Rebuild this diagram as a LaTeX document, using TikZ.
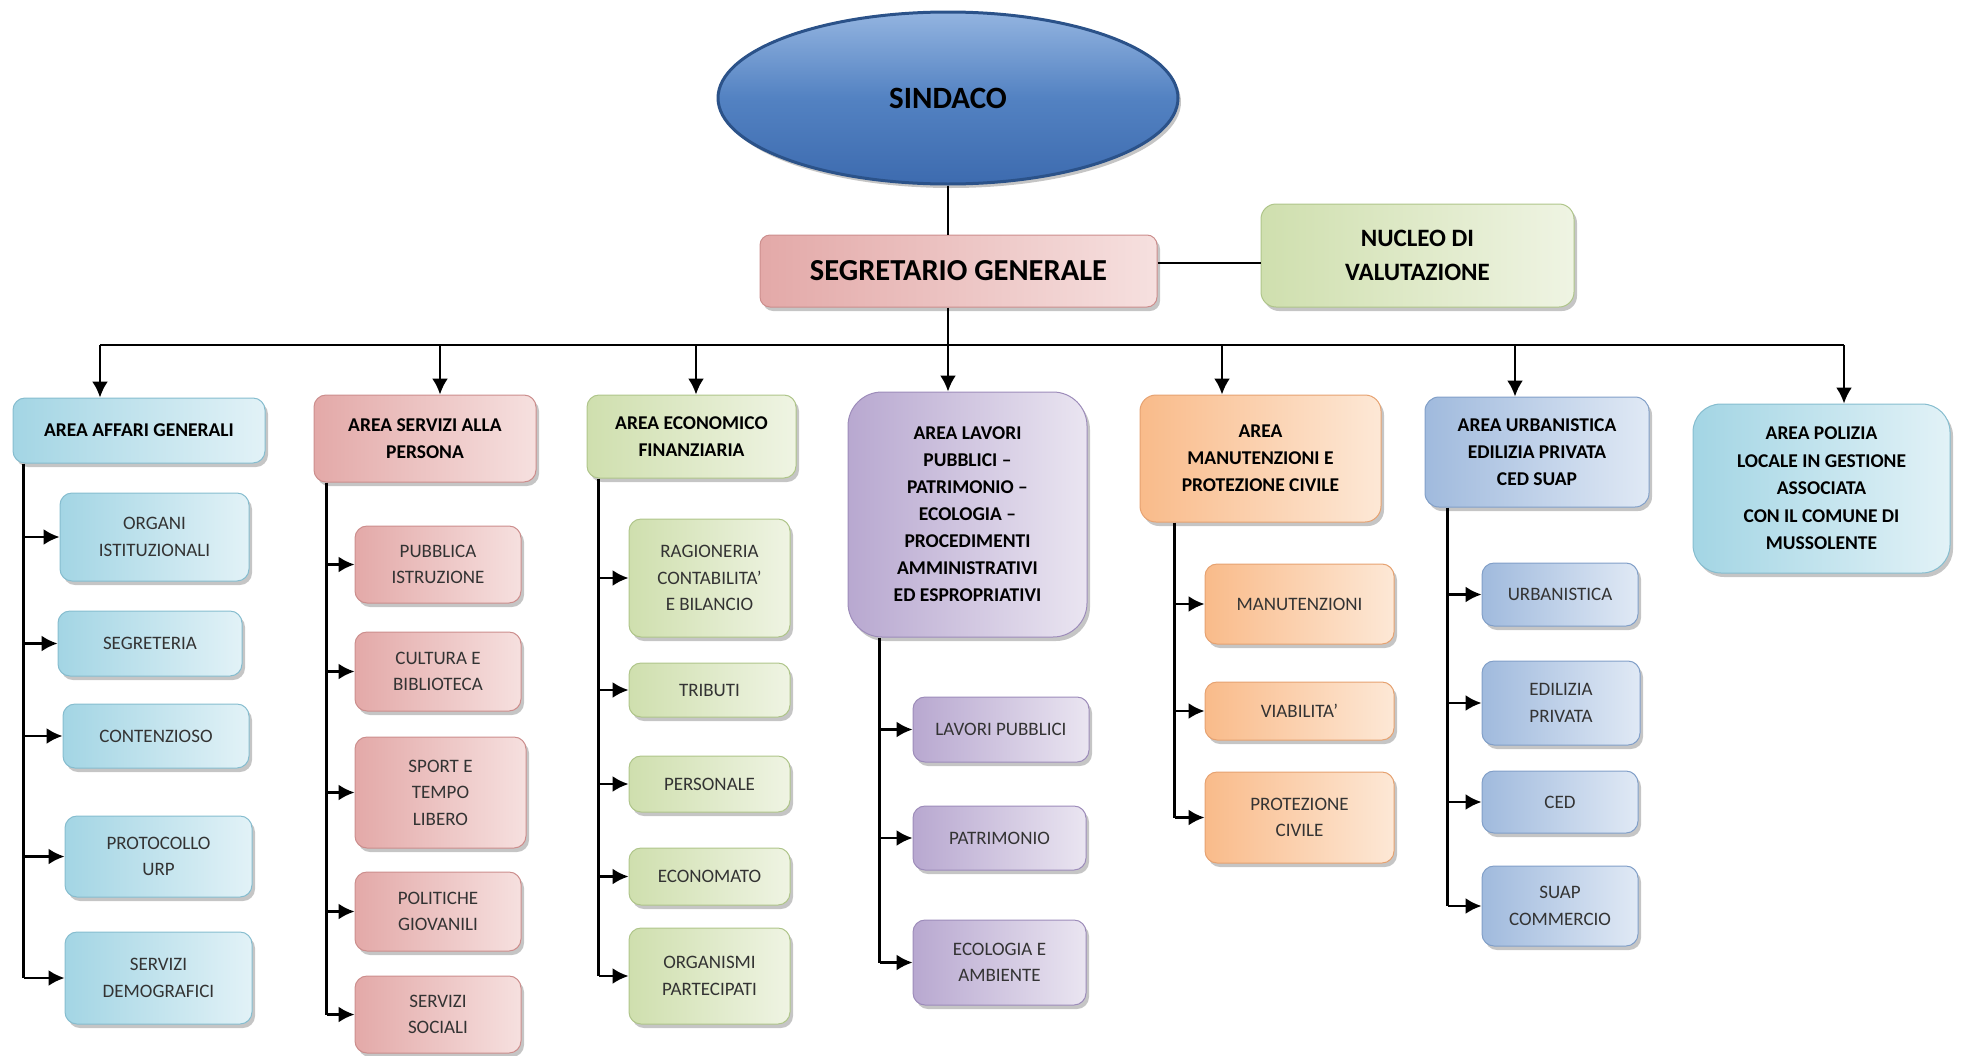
\documentclass[tikz,border=0pt]{standalone}
\usepackage{fontspec}
\setmainfont{Carlito}
\usetikzlibrary{shapes.geometric,shadows,arrows.meta}
\definecolor{acquaS}{HTML}{A3D5E4}\definecolor{acquaC}{HTML}{E2F2F7}\definecolor{acquaB}{HTML}{86BDCF}
\definecolor{rosaS}{HTML}{E3A9A8}\definecolor{rosaC}{HTML}{F6E0DF}\definecolor{rosaB}{HTML}{CC8E8D}
\definecolor{verdeS}{HTML}{CFDFAE}\definecolor{verdeC}{HTML}{EFF4E3}\definecolor{verdeB}{HTML}{AFC58A}
\definecolor{violaS}{HTML}{B8A8D0}\definecolor{violaC}{HTML}{EAE5F1}\definecolor{violaB}{HTML}{9D8CBA}
\definecolor{aranS}{HTML}{F9BB8A}\definecolor{aranC}{HTML}{FDE8D6}\definecolor{aranB}{HTML}{E6A271}
\definecolor{bluS}{HTML}{A0BADD}\definecolor{bluC}{HTML}{E0E9F5}\definecolor{bluB}{HTML}{819FC8}
\definecolor{sindC}{HTML}{93B4E0}\definecolor{sindM}{HTML}{5382C2}\definecolor{sindS}{HTML}{3D6BAF}\definecolor{sindB}{HTML}{2B5289}
\begin{document}
\begin{tikzpicture}[x=1pt,y=-1pt]
    \tikzstyle{linea}=[line width=2.3pt]
    \tikzstyle{freccia}=[line width=2.3pt,-{Latex[length=16pt,width=16pt]}]
    \tikzstyle{casella}=[rounded corners=12pt,inner sep=0pt,align=center,line width=1pt,text=black!80,
        drop shadow={shadow xshift=3pt,shadow yshift=-4pt,fill=black!45,opacity=.5},
        font=\fontsize{19}{26.5}\selectfont]
    \tikzstyle{area}=[casella,text=black,font=\fontsize{19.5}{27}\selectfont\bfseries]
    \tikzstyle{acqua}=[draw=acquaB,left color=acquaS,right color=acquaC]
    \tikzstyle{rosa}=[draw=rosaB,left color=rosaS,right color=rosaC]
    \tikzstyle{verde}=[draw=verdeB,left color=verdeS,right color=verdeC]
    \tikzstyle{viola}=[draw=violaB,left color=violaS,right color=violaC]
    \tikzstyle{arancio}=[draw=aranB,left color=aranS,right color=aranC]
    \tikzstyle{blu}=[draw=bluB,left color=bluS,right color=bluC]
    \useasboundingbox (0,0) rectangle (1962,1055);
    % vertice
    \node[ellipse,draw=sindB,line width=3pt,inner sep=0pt,top color=sindC,bottom color=sindS,middle color=sindM,
          drop shadow={shadow xshift=3pt,shadow yshift=-4pt,fill=black!45,opacity=.5},
          minimum width=460pt,minimum height=172pt,font=\fontsize{31}{36}\selectfont\bfseries] (sindaco) at (948,98) {SINDACO};
    \node[area,rosa,rounded corners=10pt,minimum width=397pt,minimum height=72pt,font=\fontsize{30.5}{36}\selectfont\bfseries] (segretario) at (958.5,271) {SEGRETARIO GENERALE};
    \node[area,verde,rounded corners=15pt,minimum width=313pt,minimum height=103pt,font=\fontsize{25}{34}\selectfont\bfseries] (nucleo) at (1417.5,255.5) {NUCLEO DI\\VALUTAZIONE};
    \coordinate (busS) at (100,345);
    \coordinate (busD) at (1844,345);
    % aree
    \node[area,acqua,minimum width=252pt,minimum height=65pt] (a1) at (139,430.5) {AREA AFFARI GENERALI};
    \node[area,rosa,minimum width=222pt,minimum height=87pt] (a2) at (425,438.5) {AREA SERVIZI ALLA\\PERSONA};
    \node[area,verde,minimum width=209pt,minimum height=83pt] (a3) at (691.5,436.5) {AREA ECONOMICO\\FINANZIARIA};
    \node[area,viola,rounded corners=34pt,minimum width=239pt,minimum height=245pt] (a4) at (967.5,514.5) {AREA LAVORI\\PUBBLICI –\\PATRIMONIO –\\ECOLOGIA –\\PROCEDIMENTI\\AMMINISTRATIVI\\ED ESPROPRIATIVI};
    \node[area,arancio,rounded corners=16pt,minimum width=241pt,minimum height=127pt] (a5) at (1260.5,458.5) {AREA\\MANUTENZIONI E\\PROTEZIONE CIVILE};
    \node[area,blu,rounded corners=14pt,minimum width=224pt,minimum height=110pt] (a6) at (1537,452) {AREA URBANISTICA\\EDILIZIA PRIVATA\\CED SUAP};
    \node[area,acqua,rounded corners=28pt,minimum width=257pt,minimum height=169pt,font=\fontsize{19.5}{27.5}\selectfont\bfseries] (a7) at (1821.5,488.5) {AREA POLIZIA\\LOCALE IN GESTIONE\\ASSOCIATA\\CON IL COMUNE DI\\MUSSOLENTE};
    % uffici
    \node[casella,acqua,minimum width=189pt,minimum height=88pt] (c11) at (154.5,537) {ORGANI\\ISTITUZIONALI};
    \node[casella,acqua,minimum width=184pt,minimum height=65pt] (c12) at (150,643.5) {SEGRETERIA};
    \node[casella,acqua,minimum width=186pt,minimum height=64pt] (c13) at (156,736) {CONTENZIOSO};
    \node[casella,acqua,minimum width=187pt,minimum height=81pt] (c14) at (158.5,856.5) {PROTOCOLLO\\URP};
    \node[casella,acqua,minimum width=187pt,minimum height=92pt] (c15) at (158.5,978) {SERVIZI\\DEMOGRAFICI};
    \node[casella,rosa,minimum width=166pt,minimum height=77pt] (c21) at (438,564.5) {PUBBLICA\\ISTRUZIONE};
    \node[casella,rosa,minimum width=166pt,minimum height=79pt] (c22) at (438,671.5) {CULTURA E\\BIBLIOTECA};
    \node[casella,rosa,minimum width=171pt,minimum height=111pt] (c23) at (440.5,792.5) {SPORT E\\TEMPO\\LIBERO};
    \node[casella,rosa,minimum width=166pt,minimum height=79pt] (c24) at (438,911.5) {POLITICHE\\GIOVANILI};
    \node[casella,rosa,minimum width=166pt,minimum height=77pt] (c25) at (438,1014.5) {SERVIZI\\SOCIALI};
    \node[casella,verde,minimum width=161pt,minimum height=118pt] (c31) at (709.5,578) {RAGIONERIA\\CONTABILITA’\\E BILANCIO};
    \node[casella,verde,minimum width=161pt,minimum height=54pt] (c32) at (709.5,690) {TRIBUTI};
    \node[casella,verde,minimum width=161pt,minimum height=56pt] (c33) at (709.5,784) {PERSONALE};
    \node[casella,verde,minimum width=161pt,minimum height=57pt] (c34) at (709.5,876.5) {ECONOMATO};
    \node[casella,verde,minimum width=161pt,minimum height=96pt] (c35) at (709.5,976) {ORGANISMI\\PARTECIPATI};
    \node[casella,viola,minimum width=176pt,minimum height=65pt] (c41) at (1001,729.5) {LAVORI PUBBLICI};
    \node[casella,viola,minimum width=173pt,minimum height=64pt] (c42) at (999.5,838) {PATRIMONIO};
    \node[casella,viola,minimum width=173pt,minimum height=85pt] (c43) at (999.5,962.5) {ECOLOGIA E\\AMBIENTE};
    \node[casella,arancio,minimum width=189pt,minimum height=80pt] (c51) at (1299.5,604) {MANUTENZIONI};
    \node[casella,arancio,minimum width=189pt,minimum height=58pt] (c52) at (1299.5,711) {VIABILITA’};
    \node[casella,arancio,minimum width=189pt,minimum height=91pt] (c53) at (1299.5,817.5) {PROTEZIONE\\CIVILE};
    \node[casella,blu,minimum width=156pt,minimum height=63pt] (c61) at (1560,594.5) {URBANISTICA};
    \node[casella,blu,minimum width=158pt,minimum height=84pt] (c62) at (1561,703) {EDILIZIA\\PRIVATA};
    \node[casella,blu,minimum width=156pt,minimum height=62pt] (c63) at (1560,802) {CED};
    \node[casella,blu,minimum width=156pt,minimum height=80pt] (c64) at (1560,906) {SUAP\\COMMERCIO};
    % collegamenti in alto
    \draw[linea] (sindaco.south) -- (sindaco.south |- segretario.north);
    \draw[linea] (sindaco.south |- segretario.south) -- (sindaco.south |- busS);
    \draw[linea] ([yshift=8pt]segretario.east) -- ([yshift=8pt]segretario.east -| nucleo.west);
    \draw[linea] (busS) -- (busD);
    \draw[freccia] ([xshift=-39pt]a1.north |- busS) -- ([xshift=-39pt]a1.north);
    \draw[freccia] ([xshift=15pt]a2.north |- busS) -- ([xshift=15pt]a2.north);
    \draw[freccia] ([xshift=4.5pt]a3.north |- busS) -- ([xshift=4.5pt]a3.north);
    \draw[freccia] (sindaco.south |- busS) -- (sindaco.south |- a4.north);
    \draw[freccia] ([xshift=-38.5pt]a5.north |- busS) -- ([xshift=-38.5pt]a5.north);
    \draw[freccia] ([xshift=-22pt]a6.north |- busS) -- ([xshift=-22pt]a6.north);
    \draw[freccia] ([xshift=22.5pt]a7.north |- busS) -- ([xshift=22.5pt]a7.north);
    % collegamenti agli uffici
    \coordinate (s1) at ([xshift=11pt]a1.south west);
    \coordinate (s2) at ([xshift=13pt]a2.south west);
    \coordinate (s3) at ([xshift=12pt]a3.south west);
    \coordinate (s4) at ([xshift=32pt]a4.south west);
    \coordinate (s5) at ([xshift=35pt]a5.south west);
    \coordinate (s6) at ([xshift=23pt]a6.south west);
    \draw[linea] (s1) -- (s1 |- c15.west)
        (s1 |- c11.west) edge[freccia] (c11.west)
        (s1 |- c12.west) edge[freccia] (c12.west)
        (s1 |- c13.west) edge[freccia] (c13.west)
        (s1 |- c14.west) edge[freccia] (c14.west)
        (s1 |- c15.west) edge[freccia] (c15.west);
    \draw[linea] (s2) -- (s2 |- c25.west)
        (s2 |- c21.west) edge[freccia] (c21.west)
        (s2 |- c22.west) edge[freccia] (c22.west)
        (s2 |- c23.west) edge[freccia] (c23.west)
        (s2 |- c24.west) edge[freccia] (c24.west)
        (s2 |- c25.west) edge[freccia] (c25.west);
    \draw[linea] (s3) -- (s3 |- c35.west)
        (s3 |- c31.west) edge[freccia] (c31.west)
        (s3 |- c32.west) edge[freccia] (c32.west)
        (s3 |- c33.west) edge[freccia] (c33.west)
        (s3 |- c34.west) edge[freccia] (c34.west)
        (s3 |- c35.west) edge[freccia] (c35.west);
    \draw[linea] (s4) -- (s4 |- c43.west)
        (s4 |- c41.west) edge[freccia] (c41.west)
        (s4 |- c42.west) edge[freccia] (c42.west)
        (s4 |- c43.west) edge[freccia] (c43.west);
    \draw[linea] (s5) -- (s5 |- c53.west)
        (s5 |- c51.west) edge[freccia] (c51.west)
        (s5 |- c52.west) edge[freccia] (c52.west)
        (s5 |- c53.west) edge[freccia] (c53.west);
    \draw[linea] (s6) -- (s6 |- c64.west)
        (s6 |- c61.west) edge[freccia] (c61.west)
        (s6 |- c62.west) edge[freccia] (c62.west)
        (s6 |- c63.west) edge[freccia] (c63.west)
        (s6 |- c64.west) edge[freccia] (c64.west);
\end{tikzpicture}
\end{document}
